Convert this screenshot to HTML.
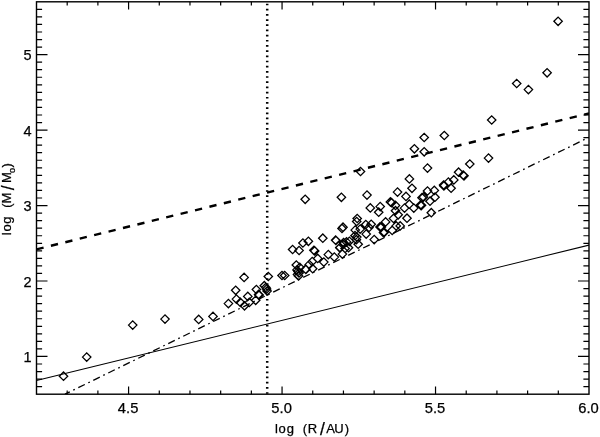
<!DOCTYPE html><html><head><meta charset="utf-8"><title>plot</title><style>html,body{margin:0;padding:0;background:#fff}svg{display:block}text{font-family:"Liberation Sans",sans-serif;fill:#000;stroke:#000;stroke-width:.25px}</style></head><body>
<svg width="600" height="437" viewBox="0 0 600 437">
<rect width="600" height="437" fill="#fff"/>
<rect x="36.5" y="1.8" width="552.5" height="392.4" fill="none" stroke="#000" stroke-width="1.4"/>
<path d="M67.19 394.2v-3.8M67.19 1.8v3.8M97.89 394.2v-3.8M97.89 1.8v3.8M128.58 394.2v-7.6M128.58 1.8v7.6M159.28 394.2v-3.8M159.28 1.8v3.8M189.97 394.2v-3.8M189.97 1.8v3.8M220.67 394.2v-3.8M220.67 1.8v3.8M251.36 394.2v-3.8M251.36 1.8v3.8M282.06 394.2v-7.6M282.06 1.8v7.6M312.75 394.2v-3.8M312.75 1.8v3.8M343.44 394.2v-3.8M343.44 1.8v3.8M374.14 394.2v-3.8M374.14 1.8v3.8M404.83 394.2v-3.8M404.83 1.8v3.8M435.53 394.2v-7.6M435.53 1.8v7.6M466.22 394.2v-3.8M466.22 1.8v3.8M496.92 394.2v-3.8M496.92 1.8v3.8M527.61 394.2v-3.8M527.61 1.8v3.8M558.31 394.2v-3.8M558.31 1.8v3.8M36.5 386.65h5.6M589.0 386.65h-5.6M36.5 379.11h5.6M589.0 379.11h-5.6M36.5 371.56h5.6M589.0 371.56h-5.6M36.5 364.02h5.6M589.0 364.02h-5.6M36.5 356.47h11M589.0 356.47h-11M36.5 348.92h5.6M589.0 348.92h-5.6M36.5 341.38h5.6M589.0 341.38h-5.6M36.5 333.83h5.6M589.0 333.83h-5.6M36.5 326.28h5.6M589.0 326.28h-5.6M36.5 318.74h5.6M589.0 318.74h-5.6M36.5 311.19h5.6M589.0 311.19h-5.6M36.5 303.65h5.6M589.0 303.65h-5.6M36.5 296.10h5.6M589.0 296.10h-5.6M36.5 288.55h5.6M589.0 288.55h-5.6M36.5 281.01h11M589.0 281.01h-11M36.5 273.46h5.6M589.0 273.46h-5.6M36.5 265.92h5.6M589.0 265.92h-5.6M36.5 258.37h5.6M589.0 258.37h-5.6M36.5 250.82h5.6M589.0 250.82h-5.6M36.5 243.28h5.6M589.0 243.28h-5.6M36.5 235.73h5.6M589.0 235.73h-5.6M36.5 228.18h5.6M589.0 228.18h-5.6M36.5 220.64h5.6M589.0 220.64h-5.6M36.5 213.09h5.6M589.0 213.09h-5.6M36.5 205.55h11M589.0 205.55h-11M36.5 198.00h5.6M589.0 198.00h-5.6M36.5 190.45h5.6M589.0 190.45h-5.6M36.5 182.91h5.6M589.0 182.91h-5.6M36.5 175.36h5.6M589.0 175.36h-5.6M36.5 167.82h5.6M589.0 167.82h-5.6M36.5 160.27h5.6M589.0 160.27h-5.6M36.5 152.72h5.6M589.0 152.72h-5.6M36.5 145.18h5.6M589.0 145.18h-5.6M36.5 137.63h5.6M589.0 137.63h-5.6M36.5 130.08h11M589.0 130.08h-11M36.5 122.54h5.6M589.0 122.54h-5.6M36.5 114.99h5.6M589.0 114.99h-5.6M36.5 107.45h5.6M589.0 107.45h-5.6M36.5 99.90h5.6M589.0 99.90h-5.6M36.5 92.35h5.6M589.0 92.35h-5.6M36.5 84.81h5.6M589.0 84.81h-5.6M36.5 77.26h5.6M589.0 77.26h-5.6M36.5 69.72h5.6M589.0 69.72h-5.6M36.5 62.17h5.6M589.0 62.17h-5.6M36.5 54.62h11M589.0 54.62h-11M36.5 47.08h5.6M589.0 47.08h-5.6M36.5 39.53h5.6M589.0 39.53h-5.6M36.5 31.98h5.6M589.0 31.98h-5.6M36.5 24.44h5.6M589.0 24.44h-5.6M36.5 16.89h5.6M589.0 16.89h-5.6M36.5 9.35h5.6M589.0 9.35h-5.6" stroke="#000" stroke-width="1.2" fill="none"/>
<clipPath id="c"><rect x="36.5" y="1.8" width="552.5" height="392.4"/></clipPath>
<g clip-path="url(#c)" fill="none" stroke="#000">
<line x1="36.5" y1="380.6" x2="589" y2="245.1" stroke-width="1.05"/>
<line x1="36.5" y1="249.3" x2="589" y2="113.4" stroke-width="2.4" stroke-dasharray="7.3 7.54"/>
<line x1="65" y1="394.2" x2="589" y2="137.3" stroke-width="1.3" stroke-dasharray="7.25 3.87 1.7 3.88" stroke-dashoffset="1.9"/>
<line x1="267.2" y1="3.65" x2="267.2" y2="394.2" stroke-width="2.5" stroke-dasharray="1.7 3.48"/>
</g>
<path d="M59.3 376.2l4.2 -4.2l4.2 4.2l-4.2 4.2zM82.5 357.1l4.2 -4.2l4.2 4.2l-4.2 4.2zM128.5 325.1l4.2 -4.2l4.2 4.2l-4.2 4.2zM160.8 319.1l4.2 -4.2l4.2 4.2l-4.2 4.2zM194.5 319.4l4.2 -4.2l4.2 4.2l-4.2 4.2zM208.8 316.4l4.2 -4.2l4.2 4.2l-4.2 4.2zM239.9 277.4l4.2 -4.2l4.2 4.2l-4.2 4.2zM231.5 290.3l4.2 -4.2l4.2 4.2l-4.2 4.2zM224.2 303.6l4.2 -4.2l4.2 4.2l-4.2 4.2zM232.2 299.1l4.2 -4.2l4.2 4.2l-4.2 4.2zM236.2 302.4l4.2 -4.2l4.2 4.2l-4.2 4.2zM240.3 305.8l4.2 -4.2l4.2 4.2l-4.2 4.2zM243.6 296.4l4.2 -4.2l4.2 4.2l-4.2 4.2zM245.1 302.4l4.2 -4.2l4.2 4.2l-4.2 4.2zM252.2 289.5l4.2 -4.2l4.2 4.2l-4.2 4.2zM251.5 300.3l4.2 -4.2l4.2 4.2l-4.2 4.2zM254.4 294.4l4.2 -4.2l4.2 4.2l-4.2 4.2zM255.0 294.9l4.2 -4.2l4.2 4.2l-4.2 4.2zM254.8 295.3l4.2 -4.2l4.2 4.2l-4.2 4.2zM264.1 276.5l4.2 -4.2l4.2 4.2l-4.2 4.2zM277.8 275.5l4.2 -4.2l4.2 4.2l-4.2 4.2zM280.5 275.5l4.2 -4.2l4.2 4.2l-4.2 4.2zM260.1 285.7l4.2 -4.2l4.2 4.2l-4.2 4.2zM261.7 287.4l4.2 -4.2l4.2 4.2l-4.2 4.2zM262.4 289.0l4.2 -4.2l4.2 4.2l-4.2 4.2zM262.9 291.0l4.2 -4.2l4.2 4.2l-4.2 4.2zM292.1 265.0l4.2 -4.2l4.2 4.2l-4.2 4.2zM295.6 267.4l4.2 -4.2l4.2 4.2l-4.2 4.2zM292.8 269.9l4.2 -4.2l4.2 4.2l-4.2 4.2zM293.8 271.4l4.2 -4.2l4.2 4.2l-4.2 4.2zM294.8 272.9l4.2 -4.2l4.2 4.2l-4.2 4.2zM293.3 274.4l4.2 -4.2l4.2 4.2l-4.2 4.2zM294.3 275.9l4.2 -4.2l4.2 4.2l-4.2 4.2zM301.7 269.4l4.2 -4.2l4.2 4.2l-4.2 4.2zM288.4 249.5l4.2 -4.2l4.2 4.2l-4.2 4.2zM294.9 250.5l4.2 -4.2l4.2 4.2l-4.2 4.2zM298.7 243.0l4.2 -4.2l4.2 4.2l-4.2 4.2zM304.2 241.3l4.2 -4.2l4.2 4.2l-4.2 4.2zM318.6 238.2l4.2 -4.2l4.2 4.2l-4.2 4.2zM309.7 250.3l4.2 -4.2l4.2 4.2l-4.2 4.2zM310.5 250.9l4.2 -4.2l4.2 4.2l-4.2 4.2zM331.7 240.5l4.2 -4.2l4.2 4.2l-4.2 4.2zM324.1 254.6l4.2 -4.2l4.2 4.2l-4.2 4.2zM330.1 257.1l4.2 -4.2l4.2 4.2l-4.2 4.2zM313.5 258.4l4.2 -4.2l4.2 4.2l-4.2 4.2zM319.6 262.1l4.2 -4.2l4.2 4.2l-4.2 4.2zM308.0 261.6l4.2 -4.2l4.2 4.2l-4.2 4.2zM305.0 264.6l4.2 -4.2l4.2 4.2l-4.2 4.2zM308.5 268.7l4.2 -4.2l4.2 4.2l-4.2 4.2zM301.4 269.2l4.2 -4.2l4.2 4.2l-4.2 4.2zM335.7 247.5l4.2 -4.2l4.2 4.2l-4.2 4.2zM338.8 244.4l4.2 -4.2l4.2 4.2l-4.2 4.2zM338.2 254.1l4.2 -4.2l4.2 4.2l-4.2 4.2zM366.1 207.9l4.2 -4.2l4.2 4.2l-4.2 4.2zM374.5 212.2l4.2 -4.2l4.2 4.2l-4.2 4.2zM376.0 206.6l4.2 -4.2l4.2 4.2l-4.2 4.2zM353.0 218.5l4.2 -4.2l4.2 4.2l-4.2 4.2zM352.5 221.5l4.2 -4.2l4.2 4.2l-4.2 4.2zM338.8 227.2l4.2 -4.2l4.2 4.2l-4.2 4.2zM337.8 228.5l4.2 -4.2l4.2 4.2l-4.2 4.2zM361.6 224.5l4.2 -4.2l4.2 4.2l-4.2 4.2zM367.0 224.3l4.2 -4.2l4.2 4.2l-4.2 4.2zM364.8 227.4l4.2 -4.2l4.2 4.2l-4.2 4.2zM356.0 229.1l4.2 -4.2l4.2 4.2l-4.2 4.2zM351.0 230.1l4.2 -4.2l4.2 4.2l-4.2 4.2zM362.0 234.1l4.2 -4.2l4.2 4.2l-4.2 4.2zM350.8 235.7l4.2 -4.2l4.2 4.2l-4.2 4.2zM352.6 237.0l4.2 -4.2l4.2 4.2l-4.2 4.2zM352.2 239.7l4.2 -4.2l4.2 4.2l-4.2 4.2zM354.0 244.2l4.2 -4.2l4.2 4.2l-4.2 4.2zM370.0 239.6l4.2 -4.2l4.2 4.2l-4.2 4.2zM331.4 240.1l4.2 -4.2l4.2 4.2l-4.2 4.2zM339.4 242.5l4.2 -4.2l4.2 4.2l-4.2 4.2zM342.3 241.9l4.2 -4.2l4.2 4.2l-4.2 4.2zM345.2 241.3l4.2 -4.2l4.2 4.2l-4.2 4.2zM335.6 247.8l4.2 -4.2l4.2 4.2l-4.2 4.2zM340.9 248.5l4.2 -4.2l4.2 4.2l-4.2 4.2zM344.3 247.7l4.2 -4.2l4.2 4.2l-4.2 4.2zM377.2 227.1l4.2 -4.2l4.2 4.2l-4.2 4.2zM379.2 232.6l4.2 -4.2l4.2 4.2l-4.2 4.2zM405.2 178.9l4.2 -4.2l4.2 4.2l-4.2 4.2zM407.8 188.3l4.2 -4.2l4.2 4.2l-4.2 4.2zM393.3 192.1l4.2 -4.2l4.2 4.2l-4.2 4.2zM401.8 196.4l4.2 -4.2l4.2 4.2l-4.2 4.2zM362.8 195.1l4.2 -4.2l4.2 4.2l-4.2 4.2zM391.3 205.4l4.2 -4.2l4.2 4.2l-4.2 4.2zM391.3 210.7l4.2 -4.2l4.2 4.2l-4.2 4.2zM394.0 214.8l4.2 -4.2l4.2 4.2l-4.2 4.2zM389.3 218.4l4.2 -4.2l4.2 4.2l-4.2 4.2zM400.3 208.1l4.2 -4.2l4.2 4.2l-4.2 4.2zM405.1 204.2l4.2 -4.2l4.2 4.2l-4.2 4.2zM409.6 208.1l4.2 -4.2l4.2 4.2l-4.2 4.2zM416.6 204.8l4.2 -4.2l4.2 4.2l-4.2 4.2zM417.3 205.3l4.2 -4.2l4.2 4.2l-4.2 4.2zM416.9 205.7l4.2 -4.2l4.2 4.2l-4.2 4.2zM419.2 197.1l4.2 -4.2l4.2 4.2l-4.2 4.2zM417.8 197.7l4.2 -4.2l4.2 4.2l-4.2 4.2zM402.8 218.2l4.2 -4.2l4.2 4.2l-4.2 4.2zM386.2 201.9l4.2 -4.2l4.2 4.2l-4.2 4.2zM387.4 202.7l4.2 -4.2l4.2 4.2l-4.2 4.2zM423.3 168.1l4.2 -4.2l4.2 4.2l-4.2 4.2zM423.3 191.0l4.2 -4.2l4.2 4.2l-4.2 4.2zM430.1 190.4l4.2 -4.2l4.2 4.2l-4.2 4.2zM430.8 197.2l4.2 -4.2l4.2 4.2l-4.2 4.2zM425.8 201.2l4.2 -4.2l4.2 4.2l-4.2 4.2zM439.4 185.0l4.2 -4.2l4.2 4.2l-4.2 4.2zM440.1 185.5l4.2 -4.2l4.2 4.2l-4.2 4.2zM439.7 185.9l4.2 -4.2l4.2 4.2l-4.2 4.2zM444.2 182.1l4.2 -4.2l4.2 4.2l-4.2 4.2zM449.6 179.9l4.2 -4.2l4.2 4.2l-4.2 4.2zM446.9 188.2l4.2 -4.2l4.2 4.2l-4.2 4.2zM454.4 172.2l4.2 -4.2l4.2 4.2l-4.2 4.2zM459.0 175.2l4.2 -4.2l4.2 4.2l-4.2 4.2zM459.8 175.8l4.2 -4.2l4.2 4.2l-4.2 4.2zM420.0 137.5l4.2 -4.2l4.2 4.2l-4.2 4.2zM440.1 135.5l4.2 -4.2l4.2 4.2l-4.2 4.2zM410.2 148.8l4.2 -4.2l4.2 4.2l-4.2 4.2zM420.0 151.8l4.2 -4.2l4.2 4.2l-4.2 4.2zM484.3 158.1l4.2 -4.2l4.2 4.2l-4.2 4.2zM465.6 164.0l4.2 -4.2l4.2 4.2l-4.2 4.2zM553.9 21.3l4.2 -4.2l4.2 4.2l-4.2 4.2zM542.9 72.8l4.2 -4.2l4.2 4.2l-4.2 4.2zM512.5 83.5l4.2 -4.2l4.2 4.2l-4.2 4.2zM524.2 89.6l4.2 -4.2l4.2 4.2l-4.2 4.2zM487.5 120.0l4.2 -4.2l4.2 4.2l-4.2 4.2zM356.3 171.5l4.2 -4.2l4.2 4.2l-4.2 4.2zM301.0 199.3l4.2 -4.2l4.2 4.2l-4.2 4.2zM337.2 197.3l4.2 -4.2l4.2 4.2l-4.2 4.2zM427.1 212.7l4.2 -4.2l4.2 4.2l-4.2 4.2zM381.4 221.9l4.2 -4.2l4.2 4.2l-4.2 4.2zM392.0 225.9l4.2 -4.2l4.2 4.2l-4.2 4.2zM396.0 225.9l4.2 -4.2l4.2 4.2l-4.2 4.2zM388.0 230.4l4.2 -4.2l4.2 4.2l-4.2 4.2zM379.8 232.0l4.2 -4.2l4.2 4.2l-4.2 4.2zM380.1 232.3l4.2 -4.2l4.2 4.2l-4.2 4.2zM375.8 226.9l4.2 -4.2l4.2 4.2l-4.2 4.2z" stroke="#000" stroke-width="1.3" fill="none"/>
<text x="128.1" y="412.7" font-size="14.5" text-anchor="middle" textLength="20.5" lengthAdjust="spacingAndGlyphs">4.5</text>
<text x="281.6" y="412.7" font-size="14.5" text-anchor="middle" textLength="20.5" lengthAdjust="spacingAndGlyphs">5.0</text>
<text x="435.0" y="412.7" font-size="14.5" text-anchor="middle" textLength="20.5" lengthAdjust="spacingAndGlyphs">5.5</text>
<text x="588.5" y="412.7" font-size="14.5" text-anchor="middle" textLength="20.5" lengthAdjust="spacingAndGlyphs">6.0</text>
<text x="31.6" y="362.1" font-size="14.5" text-anchor="end">1</text>
<text x="31.6" y="286.6" font-size="14.5" text-anchor="end">2</text>
<text x="31.6" y="211.1" font-size="14.5" text-anchor="end">3</text>
<text x="31.6" y="135.7" font-size="14.5" text-anchor="end">4</text>
<text x="31.6" y="60.2" font-size="14.5" text-anchor="end">5</text>
<text y="432.7" font-size="13" text-anchor="middle" x="276.35 282.2 290.45 297.5 304.9 312.5">log (R<tspan x="322.4" dy="2.6" font-size="17.5">/</tspan><tspan x="330.5 338.95 346.8" dy="-2.6">AU)</tspan></text>
<g transform="translate(11.4,235.5) rotate(-90)">
<text y="0" font-size="13" text-anchor="middle" x="1.8 7.55 15.35 22 30 37.4">log (M<tspan x="47.8" dy="2.6" font-size="17.5">/</tspan><tspan x="57.85" dy="-2.6">M</tspan><tspan x="65.15" dy="3.6" font-size="9.2">o</tspan><tspan x="70.2" dy="-3.6">)</tspan></text>
</g>
</svg></body></html>
